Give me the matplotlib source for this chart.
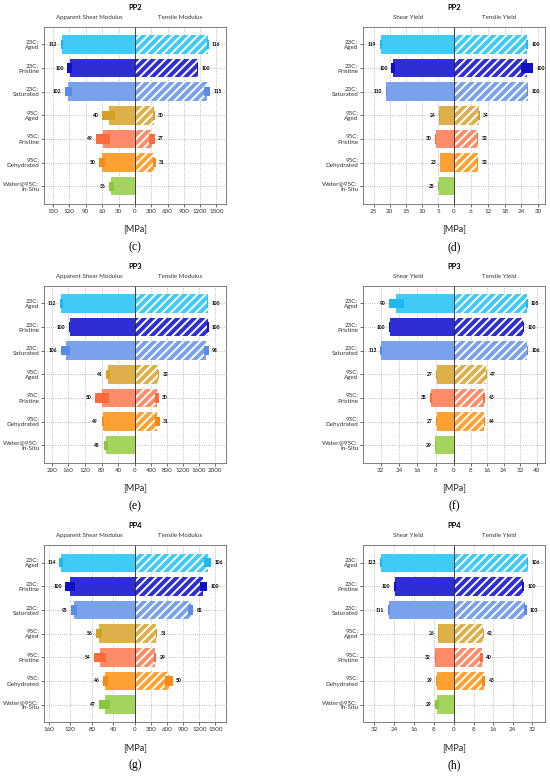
import numpy as np
import matplotlib
matplotlib.use("Agg")
import matplotlib.pyplot as plt

plt.rcParams['font.family'] = ['Lato', 'DejaVu Sans']
plt.rcParams['hatch.linewidth'] = 1.4

# categories (bottom row has no tensile value)
cats = ["23C:\nAged", "23C:\nPristine", "23C:\nSaturated", "95C:\nAged",
        "95C:\nPristine", "95C:\nDehydrated", "Water@95C:\nIn-Situ"]

# PP2 moduli [MPa]
pp2_shear_mod = [133.5, 119, 121.5, 47.6, 58.3, 59.5, 43]
pp2_shear_mod_err = [1.5, 4.5, 6.5, 11.7, 12.2, 5.5, 4.3]
pp2_shear_mod_lbl = [112, 100, 102, 40, 49, 50, 36]
pp2_tens_mod = [1341, 1157, 1330, 347, 312, 359]
pp2_tens_mod_err = [15, 10, 50, 15, 50, 20]
pp2_tens_mod_lbl = [116, 100, 115, 30, 27, 31]
# PP2 yield [MPa]
pp2_shear_yld = [22.8, 19.0, 21.0, 4.56, 5.7, 4.37, 4.8]
pp2_shear_yld_err = [0.3, 0.5, 0.3, 0.1, 0.2, 0.1, 0.2]
pp2_shear_yld_lbl = [119, 100, 110, 24, 30, 23, 25]
pp2_tens_yld = [26.1, 26.1, 26.2, 8.9, 8.4, 8.45]
pp2_tens_yld_err = [0.3, 2.2, 0.3, 0.2, 0.3, 0.2]
pp2_tens_yld_lbl = [100, 100, 100, 34, 32, 32]

# PP3
pp3_shear_mod = [177, 157, 166.5, 64.8, 79, 77, 70]
pp3_shear_mod_err = [4, 2, 10.8, 4.8, 17, 3, 5.6]
pp3_shear_mod_lbl = [112, 100, 106, 41, 50, 49, 45]
pp3_tens_mod = [1825, 1825, 1789, 584, 545, 562]
pp3_tens_mod_err = [15, 20, 60, 15, 50, 55]
pp3_tens_mod_lbl = [100, 100, 98, 32, 30, 31]
pp3_shear_yld = [25.2, 28.1, 31.7, 7.6, 9.9, 7.6, 8.15]
pp3_shear_yld_err = [3.3, 0.3, 0.5, 0.2, 0.4, 0.2, 0.3]
pp3_shear_yld_lbl = [90, 100, 113, 27, 35, 27, 29]
pp3_tens_yld = [35.2, 33.4, 35.4, 15.6, 14.5, 14.7]
pp3_tens_yld_err = [0.3, 0.3, 0.3, 0.2, 0.5, 0.3]
pp3_tens_yld_lbl = [105, 100, 106, 47, 43, 44]

# PP4
pp4_shear_mod = [137, 120, 114, 67, 64.8, 55, 56.4]
pp4_shear_mod_err = [4, 9.4, 5.6, 5, 11, 5, 10]
pp4_shear_mod_lbl = [114, 100, 95, 56, 54, 46, 47]
pp4_tens_mod = [1355, 1273, 1040, 398, 370, 636]
pp4_tens_mod_err = [62, 68, 47, 15, 20, 70]
pp4_tens_mod_lbl = [106, 100, 82, 31, 29, 50]
pp4_shear_yld = [29.3, 23.7, 26.2, 6.3, 7.6, 6.9, 6.9]
pp4_shear_yld_err = [0.3, 0.5, 0.4, 0.1, 0.2, 0.2, 0.8]
pp4_shear_yld_lbl = [123, 100, 111, 26, 32, 29, 29]
pp4_tens_yld = [30.1, 28.3, 29.1, 11.9, 11.3, 12.2]
pp4_tens_yld_err = [0.3, 0.3, 0.6, 0.2, 0.5, 0.6]
pp4_tens_yld_lbl = [106, 100, 103, 42, 40, 43]

bar_cols = ["#3FCBF5", "#2E2ED4", "#7AA2EC", "#DDB04A", "#FF8C69", "#FFA033", "#A2D45E"]
err_cols = ["#1DB8EE", "#1010C4", "#5B8BE6", "#D4A024", "#FF6A3C", "#F78A14", "#8BC63F"]

panels = [
    # (title, letter, left head, right head, shear, shear err, shear lbl, tens, tens err, tens lbl,
    #  left lim, right lim, left ticks, right ticks, column, row)
    ("PP2", "(c)", "Apparent Shear Modulus", "Tensile Modulus",
     pp2_shear_mod, pp2_shear_mod_err, pp2_shear_mod_lbl,
     pp2_tens_mod, pp2_tens_mod_err, pp2_tens_mod_lbl,
     166, 1678, np.arange(0, 151, 30), np.arange(300, 1501, 300), 0, 0),
    ("PP2", "(d)", "Shear Yield", "Tensile Yield",
     pp2_shear_yld, pp2_shear_yld_err, pp2_shear_yld_lbl,
     pp2_tens_yld, pp2_tens_yld_err, pp2_tens_yld_lbl,
     28.3, 32.4, np.arange(0, 26, 5), np.arange(6, 31, 6), 1, 0),
    ("PP3", "(e)", "Apparent Shear Modulus", "Tensile Modulus",
     pp3_shear_mod, pp3_shear_mod_err, pp3_shear_mod_lbl,
     pp3_tens_mod, pp3_tens_mod_err, pp3_tens_mod_lbl,
     218.5, 2283, np.arange(0, 201, 40), np.arange(400, 2001, 400), 0, 1),
    ("PP3", "(f)", "Shear Yield", "Tensile Yield",
     pp3_shear_yld, pp3_shear_yld_err, pp3_shear_yld_lbl,
     pp3_tens_yld, pp3_tens_yld_err, pp3_tens_yld_lbl,
     39.7, 43.9, np.arange(0, 33, 8), np.arange(8, 41, 8), 1, 1),
    ("PP4", "(g)", "Apparent Shear Modulus", "Tensile Modulus",
     pp4_shear_mod, pp4_shear_mod_err, pp4_shear_mod_lbl,
     pp4_tens_mod, pp4_tens_mod_err, pp4_tens_mod_lbl,
     169, 1700, np.arange(0, 161, 40), np.arange(300, 1501, 300), 0, 2),
    ("PP4", "(h)", "Shear Yield", "Tensile Yield",
     pp4_shear_yld, pp4_shear_yld_err, pp4_shear_yld_lbl,
     pp4_tens_yld, pp4_tens_yld_err, pp4_tens_yld_lbl,
     36.4, 37.2, np.arange(0, 33, 8), np.arange(8, 33, 8), 1, 2),
]

W, H = 550, 780
fig = plt.figure(figsize=(5.5, 7.8), dpi=100)

col_x = [44, 363]
row_top = [26.7, 285.7, 545.0]
half_w = 91
ax_h = 177.3

tick_fs = 4.5
cat_fs = 4.9
lbl_fs = 3.5


def style(ax):
    ax.grid(True, linestyle=':', color='#a8a8a8', linewidth=0.6)
    ax.set_axisbelow(True)
    for s in ax.spines.values():
        s.set_color('#6a6a6a')
        s.set_linewidth(0.6)
    ax.tick_params(axis='both', labelsize=tick_fs, length=2, width=0.5,
                   colors='#333333', pad=1.5)
    ax.set_ylim(6.75, -0.75)


for (title, letter, lhead, rhead, sh, sh_e, sh_l, te, te_e, te_l,
     llim, rlim, lticks, rticks, c, r) in panels:
    x0 = col_x[c]
    top = row_top[r]
    b = 1 - (top + ax_h) / H
    axL = fig.add_axes([x0 / W, b, half_w / W, ax_h / H])
    axR = fig.add_axes([(x0 + half_w) / W, b, half_w / W, ax_h / H])

    y = np.arange(len(cats))
    yr = np.arange(len(te))

    # shear side (left, inverted)
    axL.barh(y, sh, height=0.78, color=bar_cols, zorder=2)
    axL.barh(y, 2 * np.array(sh_e), left=np.array(sh) - np.array(sh_e),
             height=0.4, color=err_cols, zorder=3)
    for yi, v, e, t in zip(y, sh, sh_e, sh_l):
        axL.annotate(str(t), (v + e, yi), xytext=(-2.5, 0), textcoords='offset points',
                     ha='right', va='center', fontsize=lbl_fs, fontweight='bold', zorder=4)
    axL.set_xlim(llim, 0)
    axL.set_xticks(lticks)
    axL.set_yticks(y)
    axL.set_yticklabels(cats, fontsize=cat_fs, linespacing=1.05, color='#333333')
    style(axL)

    # tensile side (right, hatched)
    axR.barh(yr, te, height=0.78, color=bar_cols[:len(te)], hatch='////',
             edgecolor='white', linewidth=0, zorder=2)
    axR.barh(yr, 2 * np.array(te_e), left=np.array(te) - np.array(te_e),
             height=0.4, color=err_cols[:len(te)], zorder=3)
    for yi, v, e, t in zip(yr, te, te_e, te_l):
        axR.annotate(str(t), (v + e, yi), xytext=(2.5, 0), textcoords='offset points',
                     ha='left', va='center', fontsize=lbl_fs, fontweight='bold', zorder=4)
    axR.set_xlim(0, rlim)
    axR.set_xticks(rticks)
    axR.set_yticks(y)
    axR.set_yticklabels([])
    style(axR)
    axR.tick_params(axis='y', length=0)
    axL.spines['right'].set_color('#222222')
    axR.spines['left'].set_color('#222222')

    cx = (x0 + half_w) / W
    fig.text(cx, 1 - (top - 19.4) / H, title, ha='center', va='center',
             fontsize=5.4, fontweight='bold')
    fig.text((x0 + half_w / 2) / W, 1 - (top - 9.4) / H, lhead, ha='center',
             va='center', fontsize=4.4, color='#333333')
    fig.text((x0 + 1.5 * half_w) / W, 1 - (top - 9.4) / H, rhead, ha='center',
             va='center', fontsize=4.4, color='#333333')
    fig.text(cx, 1 - (top + ax_h + 25) / H, "[MPa]", ha='center', va='center',
             fontsize=6.6, color='#222222')
    fig.text(cx, 1 - (top + ax_h + 43) / H, letter, ha='center', va='center',
             fontsize=8.5, family=['Liberation Serif', 'DejaVu Serif'])

fig.savefig("out.png", dpi=100)
